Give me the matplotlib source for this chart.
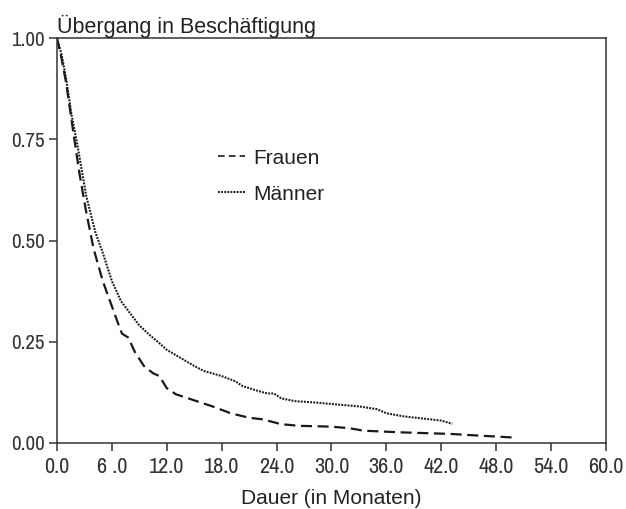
import matplotlib
matplotlib.use('Agg')
import matplotlib.pyplot as plt
from matplotlib import font_manager
from matplotlib.lines import Line2D

# Kaplan-Meier-like survival curves
frauen_x = [0, 0.5, 1.0, 1.8, 2.5, 3.2, 4.0, 5.0, 5.8, 6.6, 7.1, 7.8, 8.5, 9.5, 10.5,
            11.2, 12.0, 13.0, 15.0, 17.0, 19.0, 21.0, 22.5, 24.5, 26.5, 30.0, 32.0,
            33.5, 37.5, 43.0, 46.0, 50.0]
frauen_y = [1.0, 0.95, 0.89, 0.765, 0.66, 0.57, 0.48, 0.40, 0.35, 0.30, 0.27, 0.26,
            0.225, 0.19, 0.172, 0.165, 0.135, 0.12, 0.105, 0.09, 0.073, 0.062, 0.058,
            0.046, 0.042, 0.040, 0.036, 0.030, 0.026, 0.022, 0.018, 0.013]

maenner_x = [0, 0.5, 1.0, 1.6, 2.2, 3.2, 4.2, 5.0, 6.0, 7.0, 8.0, 9.0, 10.2, 11.0,
             12.0, 13.5, 15.0, 16.0, 18.0, 19.5, 20.3, 22.0, 23.0, 23.7, 24.5, 26.0,
             28.0, 30.0, 33.0, 35.0, 36.0, 38.0, 40.0, 42.0, 43.2]
maenner_y = [1.0, 0.96, 0.90, 0.81, 0.74, 0.61, 0.52, 0.47, 0.40, 0.35, 0.32, 0.29,
             0.265, 0.25, 0.23, 0.21, 0.19, 0.178, 0.165, 0.152, 0.140, 0.128, 0.122,
             0.122, 0.110, 0.103, 0.100, 0.096, 0.090, 0.083, 0.073, 0.065, 0.060,
             0.055, 0.047]

x_ticks = [0, 6, 12, 18, 24, 30, 36, 42, 48, 54, 60]
x_labels = ['0.0', '6 .0', '12.0', '18.0', '24.0', '30.0', '36.0', '42.0', '48.0', '54.0', '60.0']
y_ticks = [0, 0.25, 0.5, 0.75, 1.0]
y_labels = ['0.00', '0.25', '0.50', '0.75', '1.00']

# pick a narrow sans for the tick labels (reference uses an Arial Narrow look)
names = {f.name for f in font_manager.fontManager.ttflist}
narrow = 'Liberation Sans'
for cand in ['Liberation Sans Narrow', 'Arimo Narrow', 'Archivo Narrow', 'PT Sans Narrow', 'Roboto Condensed']:
    if cand in names:
        narrow = cand
        break
plt.rcParams['font.family'] = ['Liberation Sans', 'DejaVu Sans']

fig = plt.figure(figsize=(6.26, 5.09), dpi=100)
ax = fig.add_axes([0.091, 0.130, 0.877, 0.795])

ax.plot(frauen_x, frauen_y, color='#1a1a1a', lw=1.6, linestyle=(0, (5, 2.5)))
ax.plot(maenner_x, maenner_y, color='#1a1a1a', lw=1.5, linestyle=(0, (0.9, 0.6)))

ax.set_xlim(0, 60)
ax.set_ylim(0, 1)
ax.set_xticks(x_ticks)
ax.set_xticklabels(x_labels, fontsize=16, family=narrow, color='#333333')
ax.set_yticks(y_ticks)
ax.set_yticklabels(y_labels, fontsize=15, family=narrow, color='#333333')
ax.tick_params(direction='out', length=6, width=1.1, colors='#333333', labelcolor='#333333', pad=4)
ax.tick_params(axis='y', pad=3)
for s in ax.spines.values():
    s.set_linewidth(1.1)
    s.set_color('#333333')

ax.set_xlabel('Dauer (in Monaten)', fontsize=15, color='#222222', labelpad=9)
ax.set_title('Übergang in Beschäftigung', fontsize=15.5, loc='left', pad=1, color='#222222')

# legend samples are drawn shorter than the curves' dashes
handles = [Line2D([], [], color='#1a1a1a', lw=1.2, linestyle=(0, (4, 2.5))),
           Line2D([], [], color='#1a1a1a', lw=1.5, linestyle=(0, (0.9, 0.6)))]
leg = ax.legend(handles, ['Frauen', 'Männer'], loc='upper left', bbox_to_anchor=(0.259, 0.773),
                frameon=False, handlelength=1.3, handletextpad=0.4, labelspacing=0.81, fontsize=15)
for t in leg.get_texts():
    t.set_color('#222222')

fig.savefig('out.png', dpi=100)
